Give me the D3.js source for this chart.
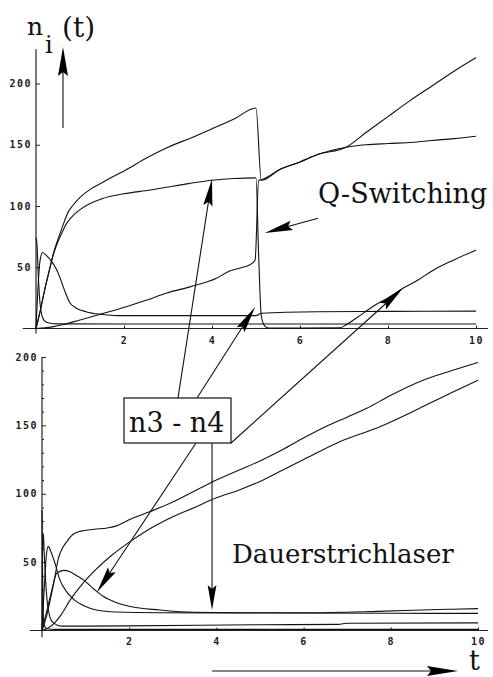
<!DOCTYPE html>
<html>
<head>
<meta charset="utf-8">
<script src="https://cdn.jsdelivr.net/npm/d3@7"></script>
<style>
  html, body { margin: 0; padding: 0; background: #fff; }
  svg { display: block; }
  .tick text { font-family: "DejaVu Sans Mono", monospace; font-weight: bold; font-size: 10px; letter-spacing: 1.5px; fill: #222; }
  .tick line { stroke: #222; stroke-width: 1; }
  .serif { font-family: "DejaVu Serif", serif; fill: #111; }
  .curve { fill: none; stroke: #111; stroke-width: 1.1; }
  .axisline { stroke: #222; stroke-width: 1.2; }
  .arrow { stroke: #111; stroke-width: 1.1; fill: none; }
  .head { fill: #000; stroke: none; }
</style>
</head>
<body>
<svg id="chart" width="493" height="677"></svg>
<script>
// ---- tick values ----
const xTickValues = [2, 4, 6, 8, 10];
const yTickValues = [50, 100, 150, 200];
const yMinorValues = [10, 20, 30, 40, 60, 70, 80, 90, 110, 120, 130, 140, 160, 170, 180, 190];

// ---- Q-Switching populations n_i(t), pairs [t, n] ----
const qsA = [[0,0],[0.1,15],[0.2,32],[0.3,47],[0.4,62],[0.5,73],[0.6,83],[0.73,95],[0.85,101],[1.0,107],[1.25,114],[1.5,119],[1.7,123],[2.07,130],[2.5,139],[3.0,148],[3.55,156],[4.0,163],[4.5,171],[5.0,180],[5.12,121],[5.55,130],[6.0,136],[6.4,142],[7.05,148],[7.5,160],[8.0,173],[8.5,186],[9.0,198],[9.5,210],[10,221]];
const qsB = [[0,0],[0.1,15],[0.2,32],[0.3,47],[0.4,61],[0.5,71],[0.6,79],[0.7,86],[0.81,91],[1.0,97],[1.23,102],[1.5,106],[2.0,110],[2.6,113],[3.0,115.5],[3.5,118.5],[4.0,121],[4.5,122.5],[5.0,123],[5.06,60],[5.12,10],[5.2,2],[5.3,0.3],[6.0,0.3],[6.9,0.5],[7.05,3],[7.3,9],[7.7,19],[8.0,25],[8.35,33],[8.7,40],[9.0,47],[9.5,56],[10,64]];
const qsC = [[0,0],[0.2,0.5],[0.4,1.5],[0.6,3],[1.0,7],[1.5,12],[2.07,18],[2.5,23],[2.97,29],[3.5,34],[4.1,41],[4.4,47],[4.7,50],[4.86,52],[4.98,56],[5.06,121],[5.12,121.5],[5.55,130],[6.0,136],[6.4,142],[7.05,148],[7.5,150],[8.0,151],[8.57,152],[9.0,153.5],[9.5,155],[10,157]];
const qsD = [[0,0],[0.04,30],[0.09,55],[0.15,62],[0.25,59],[0.35,55],[0.47,48],[0.55,41],[0.65,31],[0.77,21],[0.9,17],[1.15,13.5],[1.5,11.5],[1.84,10.5],[3,10.5],[5.0,10.5],[5.12,12.4],[6.4,13.7],[8,14],[10,14.2]];
const qsE = [[0,74],[0.02,70],[0.05,45],[0.09,21],[0.14,10],[0.2,6],[0.3,4.5],[0.5,3.8],[2,3.7],[5,3.7],[10,3.7]];

// ---- Dauerstrichlaser (continuous wave) populations ----
const cwE = [[0,0],[0.1,10],[0.2,24],[0.3,40],[0.37,52],[0.45,59],[0.57,65],[0.7,70],[0.87,72.5],[1.2,74],[1.5,75],[1.71,76.5],[2.0,81],[2.48,87],[3.0,94],[3.5,102],[4.0,110],[4.54,117.5],[5.0,124],[5.5,132],[6.07,142],[6.5,149],[7.0,156],[7.45,162.5],[8.0,172],[8.74,183],[9.3,189],[10,196]];
const cwF = [[0,0],[0.15,2],[0.3,6],[0.45,12],[0.64,22],[0.9,33],[1.25,45],[1.6,55],[2.02,65],[2.4,73],[2.86,81],[3.5,90],[4.0,97],[4.54,103],[5.0,109],[5.5,117],[6.0,125],[6.83,138],[7.75,149],[8.82,165],[9.4,174],[10,183]];
const cwG = [[0,0],[0.05,30],[0.1,55],[0.145,61.5],[0.2,58],[0.3,49],[0.41,37],[0.55,29],[0.72,23],[1.0,17.5],[1.25,15],[1.7,13.5],[2.7,13],[5,12.8],[8,12.6],[10,12.5]];
const cwH = [[0,0],[0.1,13],[0.2,26],[0.34,42],[0.5,44],[0.64,43],[0.8,40],[0.95,37],[1.2,30],[1.4,25],[1.7,20.5],[2.02,17.5],[2.7,15],[3.5,13.3],[4.5,13],[6,13],[7.7,14],[9.3,15.5],[10,16]];
const cwI = [[0,88],[0.01,50],[0.025,15],[0.05,4],[0.1,1.5],[0.3,0.8],[10,0.8]];
const cwJ = [[0,0],[0.012,55],[0.03,71],[0.05,58],[0.08,38],[0.12,21],[0.18,10],[0.26,5.6],[0.45,3.2],[2,3.4],[5,4.2],[6.8,4.5],[7.0,5.3],[10,5.6]];

// ---- annotation targets in data coordinates [t, n] ----
const topArrowTips = [[4.0, 122], [4.98, 17.5], [8.34, 33]];
const bottomArrowTips = [[1.26, 28], [3.9, 15]];
const qSwitchArrow = { tail: [6.41, 90], tip: [5.2, 78] };

const svg = d3.select("#chart");

// scales for the two panels
const xTop = d3.scaleLinear().domain([0, 10]).range([36, 476]);
const yTop = d3.scaleLinear().domain([0, 200]).range([328.5, 83.5]);
const xBot = d3.scaleLinear().domain([0, 10]).range([42, 478]);
const yBot = d3.scaleLinear().domain([0, 200]).range([630.5, 357]);

function drawPanel(x, y, series, opts) {
  const g = svg.append("g");
  // axis lines, slightly overshooting the origin
  g.append("line").attr("class", "axisline")
    .attr("x1", x(opts.xMin)).attr("x2", x(opts.xMax))
    .attr("y1", y(0)).attr("y2", y(0));
  g.append("line").attr("class", "axisline")
    .attr("x1", x(0)).attr("x2", x(0))
    .attr("y1", y(opts.yMin)).attr("y2", y(opts.yMax));

  const gx = g.append("g").attr("transform", `translate(0,${y(0)})`)
    .call(d3.axisBottom(x).tickValues(xTickValues).tickSize(-3).tickPadding(opts.xPad).tickFormat(d3.format("d")));
  gx.select(".domain").remove();

  const gy = g.append("g").attr("transform", `translate(${x(0)},0)`)
    .call(d3.axisLeft(y).tickValues(yTickValues).tickSize(-4).tickPadding(4).tickFormat(d3.format("d")));
  gy.select(".domain").remove();

  if (opts.minor) {
    const gm = g.append("g").attr("transform", `translate(${x(0)},0)`)
      .call(d3.axisLeft(y).tickValues(yMinorValues).tickSize(-2).tickFormat(""));
    gm.select(".domain").remove();
  }

  const line = d3.line().x(d => x(d[0])).y(d => y(d[1])).curve(d3.curveMonotoneX);
  series.forEach(s => {
    g.append("path").attr("class", "curve").attr("d", line(s));
  });
}

drawPanel(xTop, yTop, [qsA, qsB, qsC, qsD, qsE], { xMin: -0.3, xMax: 10.27, yMin: -4, yMax: 228, xPad: 8, minor: false });
drawPanel(xBot, yBot, [cwE, cwF, cwG, cwH, cwI, cwJ], { xMin: -0.28, xMax: 10.23, yMin: -5, yMax: 200, xPad: 7, minor: true });

// arrow: shaft plus filled narrow head ending at the tip
function arrow(x1, y1, x2, y2, len = 27, hw = 4.6) {
  const dx = x2 - x1, dy = y2 - y1;
  const d = Math.hypot(dx, dy);
  const ux = dx / d, uy = dy / d;
  const bx = x2 - ux * len, by = y2 - uy * len;
  const nx = -uy, ny = ux;
  svg.append("line").attr("class", "arrow")
    .attr("x1", x1).attr("y1", y1).attr("x2", bx + ux * 4).attr("y2", by + uy * 4);
  const notchX = x2 - ux * (len - 4), notchY = y2 - uy * (len - 4);
  svg.append("path").attr("class", "head")
    .attr("d", `M${x2},${y2} L${bx + nx * hw},${by + ny * hw} L${notchX},${notchY} L${bx - nx * hw},${by - ny * hw} Z`);
}

// label box between the panels
const box = { x: 124, y: 398, w: 107, h: 45 };

// arrows from the box up into the Q-Switching panel
arrow(178, box.y, xTop(topArrowTips[0][0]), yTop(topArrowTips[0][1]));
arrow(197, box.y, xTop(topArrowTips[1][0]), yTop(topArrowTips[1][1]));
arrow(box.x + box.w, box.y + box.h, xTop(topArrowTips[2][0]), yTop(topArrowTips[2][1]));
// arrows from the box down into the Dauerstrichlaser panel
arrow(196, box.y + box.h, xBot(bottomArrowTips[0][0]), yBot(bottomArrowTips[0][1]));
arrow(xBot(bottomArrowTips[1][0]), box.y + box.h, xBot(bottomArrowTips[1][0]), yBot(bottomArrowTips[1][1]), 25, 4.4);

// Q-Switching pointer
arrow(xTop(qSwitchArrow.tail[0]), yTop(qSwitchArrow.tail[1]), xTop(qSwitchArrow.tip[0]), yTop(qSwitchArrow.tip[1]), 28, 4.8);

svg.append("rect").attr("x", box.x).attr("y", box.y).attr("width", box.w).attr("height", box.h)
  .attr("fill", "#fff").attr("stroke", "#111").attr("stroke-width", 1.2);
svg.append("text").attr("class", "serif").attr("x", 129).attr("y", 432)
  .style("font-size", "27px").text("n3 - n4");

svg.append("text").attr("class", "serif").attr("x", 318).attr("y", 203)
  .style("font-size", "27px").text("Q-Switching");
svg.append("text").attr("class", "serif").attr("x", 232).attr("y", 563)
  .style("font-size", "26px").text("Dauerstrichlaser");

// axis titles with their direction arrows
svg.append("text").attr("class", "serif").attr("x", 27).attr("y", 35).style("font-size", "25px").text("n");
svg.append("text").attr("class", "serif").attr("x", 45).attr("y", 53).style("font-size", "24px").text("i");
svg.append("text").attr("class", "serif").attr("x", 62).attr("y", 37).style("font-size", "28px").text("(t)");
arrow(63, 128, 63, 47, 29, 5);

arrow(212, 671, 458, 671, 31, 5);
svg.append("text").attr("class", "serif").attr("x", 469).attr("y", 670).style("font-size", "27px").text("t");
</script>
</body>
</html>
